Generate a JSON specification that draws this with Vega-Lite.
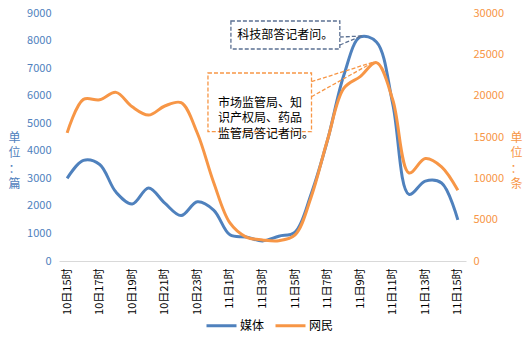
{
  "$schema": "https://vega.github.io/schema/vega-lite/v6.json",
  "autosize": {"type": "none"},
  "width": 407,
  "height": 248,
  "padding": {"left": 59, "top": 13, "right": 66, "bottom": 82},
  "background": "white",
  "config": {
    "font": "Noto Sans CJK SC",
    "view": {"stroke": null},
    "axis": {"grid": false, "ticks": false, "tickSize": 0, "labelOverlap": false}
  },
  "datasets": {
    "series": [
      {"idx": 0, "time": "10日15时", "media": 3000, "netizen": 15500},
      {"idx": 1, "time": "10日16时", "media": 3650, "netizen": 19550},
      {"idx": 2, "time": "10日17时", "media": 3500, "netizen": 19500},
      {"idx": 3, "time": "10日18时", "media": 2500, "netizen": 20400},
      {"idx": 4, "time": "10日19时", "media": 2070, "netizen": 18650},
      {"idx": 5, "time": "10日20时", "media": 2650, "netizen": 17650},
      {"idx": 6, "time": "10日21时", "media": 2100, "netizen": 18750},
      {"idx": 7, "time": "10日22时", "media": 1650, "netizen": 19150},
      {"idx": 8, "time": "10日23时", "media": 2150, "netizen": 15450},
      {"idx": 9, "time": "11日0时", "media": 1850, "netizen": 9500},
      {"idx": 10, "time": "11日1时", "media": 950, "netizen": 4600},
      {"idx": 11, "time": "11日2时", "media": 870, "netizen": 2900},
      {"idx": 12, "time": "11日3时", "media": 730, "netizen": 2550},
      {"idx": 13, "time": "11日4时", "media": 900, "netizen": 2450},
      {"idx": 14, "time": "11日5时", "media": 1050, "netizen": 3150},
      {"idx": 15, "time": "11日6时", "media": 2450, "netizen": 7800},
      {"idx": 16, "time": "11日7时", "media": 4400, "netizen": 14700},
      {"idx": 17, "time": "11日8时", "media": 6750, "netizen": 20900},
      {"idx": 18, "time": "11日9时", "media": 8130, "netizen": 22300},
      {"idx": 19, "time": "11日10时", "media": 7950, "netizen": 24000},
      {"idx": 20, "time": "11日11时", "media": 5700, "netizen": 19500},
      {"idx": 21, "time": "11日12时", "media": 2420, "netizen": 10650},
      {"idx": 22, "time": "11日13时", "media": 2900, "netizen": 12400},
      {"idx": 23, "time": "11日14时", "media": 2830, "netizen": 11400},
      {"idx": 24, "time": "11日15时", "media": 1490, "netizen": 8550}
    ],
    "boxes": [
      {"name": "tech", "x1": 10.06, "x2": 16.75, "y1": 8710, "y2": 7694},
      {"name": "market", "x1": 8.65, "x2": 15.01, "y1": 6823, "y2": 4692}
    ],
    "wedges": [
      {"name": "tech", "x1": 16.75, "y1": 8129, "x2": 18.1, "y2": 8165},
      {"name": "tech", "x1": 16.75, "y1": 7839, "x2": 18.1, "y2": 8165},
      {"name": "market", "x1": 15.01, "y1": 6507, "x2": 18.83, "y2": 7222},
      {"name": "market", "x1": 15.01, "y1": 5962, "x2": 18.83, "y2": 7222}
    ],
    "notes": [
      {"name": "tech", "x": 13.4, "y": 8202, "label": "科技部答记者问。", "align": "center"},
      {"name": "market", "x": 9.26, "y": 5745, "label": "市场监管局、知\n识产权局、药品\n监管局答记者问。", "align": "left"}
    ]
  },
  "encoding": {
    "x": {
      "field": "idx",
      "type": "quantitative",
      "scale": {"domain": [-0.5, 24.5], "nice": false, "zero": false},
      "axis": {
        "title": null,
        "values": [0, 2, 4, 6, 8, 10, 12, 14, 16, 18, 20, 22, 24],
        "labelExpr": "datum.value <= 8 ? '10日' + (15 + datum.value) + '时' : '11日' + (datum.value - 9) + '时'",
        "labelAngle": -90,
        "labelAlign": "right",
        "labelBaseline": "middle",
        "labelFontSize": 11,
        "labelColor": "#000000",
        "labelPadding": 7,
        "domainColor": "#D9D9D9",
        "domainWidth": 1,
        "labelOverlap": false
      }
    }
  },
  "layer": [
    {
      "layer": [
        {
          "data": {"name": "series"},
          "mark": {"type": "line", "interpolate": "catmull-rom", "strokeWidth": 3},
          "encoding": {
            "y": {
              "field": "media",
              "type": "quantitative",
              "scale": {"domain": [0, 9000], "nice": false},
              "axis": {
                "orient": "left",
                "values": [0, 1000, 2000, 3000, 4000, 5000, 6000, 7000, 8000, 9000],
                "format": "d",
                "labelOverlap": false,
                "domain": false,
                "labelColor": "#4F81BD",
                "labelFontSize": 11,
                "labelPadding": 8,
                "title": ["单", "位", "：", "篇"],
                "titleAngle": 0,
                "titleColor": "#4F81BD",
                "titleFontSize": 12,
                "titleFontWeight": "normal",
                "titleLineHeight": 15.5,
                "titleAlign": "center",
                "titleBaseline": "middle",
                "titleX": -45,
                "titleY": 124
              }
            },
            "color": {
              "datum": "媒体",
              "type": "nominal",
              "scale": {"domain": ["媒体", "网民"], "range": ["#4F81BD", "#F79646"]},
              "legend": {
                "title": null,
                "orient": "none",
                "legendX": 146,
                "legendY": 296,
                "direction": "horizontal",
                "symbolType": "stroke",
                "symbolSize": 900,
                "symbolStrokeWidth": 3,
                "labelFontSize": 12,
                "labelColor": "#000000",
                "labelOffset": 2,
                "columnPadding": 4
              }
            }
          }
        },
        {
          "data": {"name": "boxes"},
          "mark": {"type": "rect", "fill": "white", "strokeWidth": 1.3, "strokeDash": [4, 2]},
          "encoding": {
            "x": {"field": "x1", "type": "quantitative"},
            "x2": {"field": "x2"},
            "y": {"field": "y1", "type": "quantitative", "scale": {"domain": [0, 9000], "nice": false}, "axis": {"values": [0, 1000, 2000, 3000, 4000, 5000, 6000, 7000, 8000, 9000], "format": "d"}},
            "y2": {"field": "y2"},
            "stroke": {
              "field": "name",
              "type": "nominal",
              "scale": {"domain": ["tech", "market"], "range": ["#5B7092", "#F79646"]},
              "legend": null
            }
          }
        },
        {
          "data": {"name": "wedges"},
          "mark": {"type": "rule", "strokeWidth": 1.3, "strokeDash": [4, 2]},
          "encoding": {
            "x": {"field": "x1", "type": "quantitative"},
            "x2": {"field": "x2"},
            "y": {"field": "y1", "type": "quantitative", "scale": {"domain": [0, 9000], "nice": false}, "axis": {"values": [0, 1000, 2000, 3000, 4000, 5000, 6000, 7000, 8000, 9000], "format": "d"}},
            "y2": {"field": "y2"},
            "stroke": {
              "field": "name",
              "type": "nominal",
              "scale": {"domain": ["tech", "market"], "range": ["#5B7092", "#F79646"]},
              "legend": null
            }
          }
        },
        {
          "data": {"name": "notes"},
          "transform": [{"filter": "datum.align == 'center'"}],
          "mark": {"type": "text", "align": "center", "baseline": "middle", "fontSize": 12, "color": "#000000"},
          "encoding": {
            "x": {"field": "x", "type": "quantitative"},
            "y": {"field": "y", "type": "quantitative", "scale": {"domain": [0, 9000], "nice": false}, "axis": {"values": [0, 1000, 2000, 3000, 4000, 5000, 6000, 7000, 8000, 9000], "format": "d"}},
            "text": {"field": "label"}
          }
        },
        {
          "data": {"name": "notes"},
          "transform": [{"filter": "datum.align == 'left'"}],
          "mark": {"type": "text", "align": "left", "baseline": "middle", "fontSize": 12, "lineBreak": "\n", "lineHeight": 15.5, "color": "#000000"},
          "encoding": {
            "x": {"field": "x", "type": "quantitative"},
            "y": {"field": "y", "type": "quantitative", "scale": {"domain": [0, 9000], "nice": false}, "axis": {"values": [0, 1000, 2000, 3000, 4000, 5000, 6000, 7000, 8000, 9000], "format": "d"}},
            "text": {"field": "label"}
          }
        }
      ]
    },
    {
      "data": {"name": "series"},
      "mark": {"type": "line", "interpolate": "catmull-rom", "strokeWidth": 3},
      "encoding": {
        "y": {
          "field": "netizen",
          "type": "quantitative",
          "scale": {"domain": [0, 30000], "nice": false},
          "axis": {
            "orient": "right",
            "values": [0, 5000, 10000, 15000, 20000, 25000, 30000],
            "format": "d",
            "labelOverlap": false,
            "domain": false,
            "labelColor": "#F79646",
            "labelFontSize": 11,
            "labelPadding": 7,
            "title": ["单", "位", "：", "条"],
            "titleAngle": 0,
            "titleColor": "#F79646",
            "titleFontSize": 12,
            "titleFontWeight": "normal",
            "titleLineHeight": 15.5,
            "titleAlign": "center",
            "titleBaseline": "middle",
            "titleX": 50,
            "titleY": 124
          }
        },
        "color": {"datum": "网民", "type": "nominal"}
      }
    }
  ],
  "resolve": {"scale": {"y": "independent", "stroke": "independent"}}
}
